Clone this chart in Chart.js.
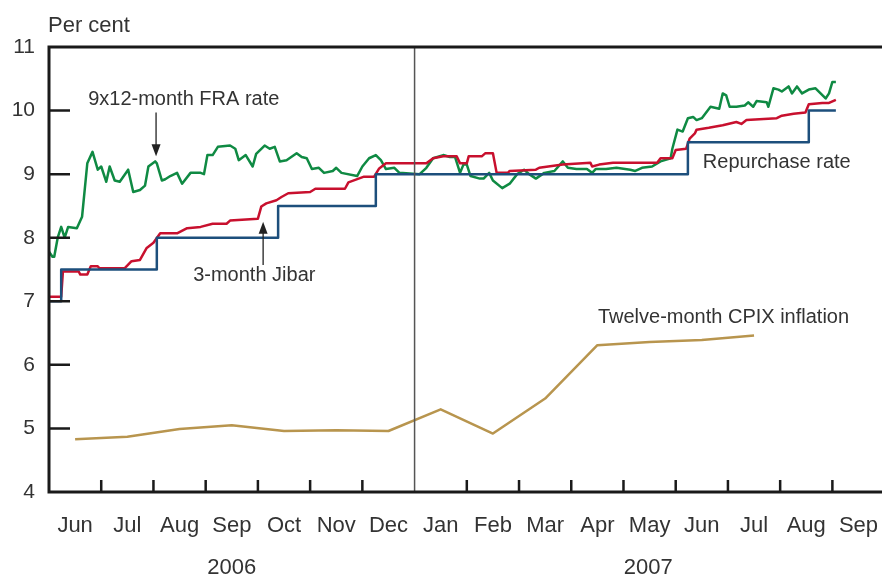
<!DOCTYPE html>
<html>
<head>
<meta charset="utf-8">
<script src="https://cdn.jsdelivr.net/npm/chart.js@4.4.0/dist/chart.umd.min.js"></script>
<style>
  body { margin: 0; background: #fff; }
  #wrap { width: 882px; height: 576px; }
</style>
</head>
<body>
<div id="wrap"><canvas id="chart" width="882" height="576"></canvas></div>
<script>
// Month axis: Jun 2006 .. Sep 2007, each month gets the same width
const monthNames = ['Jun', 'Jul', 'Aug', 'Sep', 'Oct', 'Nov', 'Dec', 'Jan', 'Feb', 'Mar', 'Apr', 'May', 'Jun', 'Jul', 'Aug', 'Sep'];
const yearNames = ['2006', '2007'];
const yearBreak = '2007-01-01';
const yTicks = [4, 5, 6, 7, 8, 9, 10, 11];

// Repurchase rate (step changes)
const repoDates = ['2006-06-01', '2006-06-08', '2006-08-03', '2006-10-13', '2006-12-09', '2007-06-08', '2007-08-18', '2007-09-03'];
const repoValues = [7.0, 7.5, 8.0, 8.5, 9.0, 9.5, 10.0, 10.0];

// 3-month Jibar
const jibarDates = ['2006-06-01', '2006-06-08', '2006-06-09', '2006-06-18', '2006-06-19', '2006-06-23', '2006-06-25', '2006-06-29',
  '2006-06-30', '2006-07-15', '2006-07-19', '2006-07-24', '2006-07-28', '2006-08-01', '2006-08-05', '2006-08-15', '2006-08-21',
  '2006-08-29', '2006-09-05', '2006-09-13', '2006-09-15', '2006-10-01', '2006-10-03', '2006-10-06', '2006-10-12', '2006-10-15',
  '2006-10-19', '2006-11-01', '2006-11-04', '2006-11-21', '2006-11-23', '2006-12-02', '2006-12-08', '2006-12-11', '2006-12-15',
  '2007-01-08', '2007-01-12', '2007-01-18', '2007-01-26', '2007-01-28', '2007-02-01', '2007-02-02', '2007-02-09', '2007-02-11',
  '2007-02-15', '2007-02-17', '2007-02-23', '2007-02-24', '2007-03-11', '2007-03-13', '2007-03-27', '2007-04-12', '2007-04-13',
  '2007-04-17', '2007-04-25', '2007-05-21', '2007-05-23', '2007-05-30', '2007-06-01', '2007-06-07', '2007-06-09', '2007-06-12',
  '2007-06-13', '2007-06-20', '2007-06-28', '2007-07-06', '2007-07-09', '2007-07-12', '2007-07-30', '2007-08-02', '2007-08-09',
  '2007-08-16', '2007-08-18', '2007-08-26', '2007-08-30', '2007-09-03'];
const jibarValues = [7.07, 7.07, 7.47, 7.47, 7.42, 7.42, 7.55, 7.55,
  7.52, 7.52, 7.63, 7.65, 7.84, 7.92, 8.07, 8.07, 8.15,
  8.17, 8.22, 8.22, 8.27, 8.30, 8.49, 8.54, 8.59, 8.64,
  8.70, 8.72, 8.77, 8.77, 8.87, 8.96, 8.96, 9.09, 9.17,
  9.17, 9.25, 9.28, 9.28, 9.17, 9.17, 9.28, 9.28, 9.33,
  9.33, 9.02, 9.02, 9.05, 9.07, 9.10, 9.15, 9.18, 9.12,
  9.15, 9.18, 9.18, 9.25, 9.25, 9.38, 9.40, 9.56, 9.64,
  9.70, 9.73, 9.77, 9.82, 9.79, 9.85, 9.88, 9.92, 9.95,
  9.97, 10.10, 10.12, 10.12, 10.17];

// 9x12-month FRA rate
const fraDates = ['2006-06-01', '2006-06-03', '2006-06-04', '2006-06-06', '2006-06-08', '2006-06-10', '2006-06-12', '2006-06-17',
  '2006-06-20', '2006-06-23', '2006-06-26', '2006-06-29', '2006-07-01', '2006-07-04', '2006-07-06', '2006-07-09', '2006-07-12',
  '2006-07-17', '2006-07-20', '2006-07-24', '2006-07-27', '2006-07-29', '2006-08-02', '2006-08-03', '2006-08-06', '2006-08-08',
  '2006-08-11', '2006-08-15', '2006-08-18', '2006-08-23', '2006-08-29', '2006-08-31', '2006-09-02', '2006-09-05', '2006-09-08',
  '2006-09-15', '2006-09-18', '2006-09-20', '2006-09-24', '2006-09-28', '2006-09-30', '2006-10-05', '2006-10-08', '2006-10-11',
  '2006-10-14', '2006-10-18', '2006-10-24', '2006-10-27', '2006-10-30', '2006-11-02', '2006-11-06', '2006-11-09', '2006-11-14',
  '2006-11-16', '2006-11-19', '2006-11-28', '2006-12-01', '2006-12-05', '2006-12-09', '2006-12-12', '2006-12-15', '2006-12-20',
  '2006-12-23', '2007-01-04', '2007-01-08', '2007-01-12', '2007-01-18', '2007-01-22', '2007-01-25', '2007-01-28', '2007-01-30',
  '2007-02-01', '2007-02-03', '2007-02-08', '2007-02-10', '2007-02-13', '2007-02-15', '2007-02-20', '2007-02-24', '2007-02-28',
  '2007-03-04', '2007-03-07', '2007-03-11', '2007-03-16', '2007-03-22', '2007-03-27', '2007-03-30', '2007-04-04', '2007-04-10',
  '2007-04-13', '2007-04-15', '2007-04-21', '2007-04-27', '2007-05-05', '2007-05-08', '2007-05-12', '2007-05-18', '2007-05-23',
  '2007-05-29', '2007-05-30', '2007-06-02', '2007-06-05', '2007-06-08', '2007-06-11', '2007-06-13', '2007-06-16', '2007-06-21',
  '2007-06-26', '2007-06-28', '2007-06-30', '2007-07-02', '2007-07-06', '2007-07-11', '2007-07-13', '2007-07-16', '2007-07-18',
  '2007-07-24', '2007-07-25', '2007-07-28', '2007-07-31', '2007-08-02', '2007-08-06', '2007-08-08', '2007-08-11', '2007-08-14',
  '2007-08-18', '2007-08-22', '2007-08-25', '2007-08-28', '2007-08-30', '2007-09-01', '2007-09-03'];
const fraValues = [7.78, 7.70, 7.70, 8.00, 8.17, 8.00, 8.17, 8.15,
  8.33, 9.17, 9.35, 9.07, 9.12, 8.88, 9.12, 8.90, 8.88,
  9.07, 8.72, 8.75, 8.82, 9.12, 9.20, 9.17, 8.90, 8.92,
  8.97, 9.02, 8.85, 9.02, 9.02, 9.00, 9.30, 9.30, 9.43,
  9.45, 9.40, 9.22, 9.30, 9.12, 9.32, 9.45, 9.40, 9.43,
  9.20, 9.22, 9.33, 9.27, 9.25, 9.08, 9.10, 9.02, 9.05,
  9.10, 9.02, 8.97, 9.12, 9.25, 9.30, 9.22, 9.08, 9.10,
  9.02, 9.00, 9.10, 9.25, 9.30, 9.27, 9.27, 9.02, 9.15,
  9.15, 8.97, 8.93, 8.93, 9.02, 8.90, 8.78, 8.85, 9.00,
  9.07, 9.00, 8.93, 9.02, 9.05, 9.20, 9.10, 9.08, 9.08,
  9.02, 9.08, 9.08, 9.10, 9.07, 9.05, 9.10, 9.12, 9.20,
  9.25, 9.40, 9.70, 9.67, 9.88, 9.90, 9.85, 9.88, 10.06,
  10.03, 10.27, 10.24, 10.06, 10.06, 10.08, 10.13, 10.06, 10.15,
  10.13, 10.06, 10.35, 10.33, 10.30, 10.38, 10.27, 10.38, 10.27,
  10.33, 10.35, 10.27, 10.19, 10.27, 10.45, 10.45];

// Twelve-month CPIX inflation (monthly, plotted mid-month)
const cpixMonths = ['2006-06', '2006-07', '2006-08', '2006-09', '2006-10', '2006-11', '2006-12',
  '2007-01', '2007-02', '2007-03', '2007-04', '2007-05', '2007-06', '2007-07'];
const cpixValues = [4.83, 4.87, 4.99, 5.05, 4.96, 4.97, 4.96, 5.30, 4.92, 5.47, 6.31, 6.36, 6.39, 6.46];

// date -> position on the month axis (0 = 1 Jun 2006)
function toMonthIndex(d) {
  const [yy, mm, dd] = d.split('-').map(Number);
  const days = new Date(yy, mm, 0).getDate();
  return (yy - 2006) * 12 + (mm - 6) + ((dd || 1) - 1) / days;
}
const pairs = (dates, values) => dates.map((d, i) => ({ x: toMonthIndex(d), y: values[i] }));

const textColor = '#333';
const fontFamily = '"Liberation Sans", Arial, sans-serif';

const decorations = {
  id: 'decorations',
  afterDatasetsDraw(chart) {
    const { ctx, chartArea: a, scales: { x, y } } = chart;
    ctx.save();

    // divider at the turn of the year
    const xb = x.getPixelForValue(toMonthIndex(yearBreak));
    ctx.strokeStyle = '#555';
    ctx.lineWidth = 1.5;
    ctx.beginPath();
    ctx.moveTo(xb, a.top);
    ctx.lineTo(xb, a.bottom);
    ctx.stroke();

    // frame: top, left, bottom
    ctx.strokeStyle = '#1a1a1a';
    ctx.lineWidth = 3;
    ctx.beginPath();
    ctx.moveTo(a.right, a.top);
    ctx.lineTo(a.left, a.top);
    ctx.lineTo(a.left, a.bottom);
    ctx.lineTo(a.right, a.bottom);
    ctx.stroke();

    // inner ticks
    ctx.lineWidth = 2.5;
    ctx.beginPath();
    yTicks.slice(1, -1).forEach(v => {
      const py = y.getPixelForValue(v);
      ctx.moveTo(a.left, py);
      ctx.lineTo(a.left + 21, py);
    });
    for (let i = 1; i < monthNames.length; i++) {
      if (i === 7) continue;
      const px = x.getPixelForValue(i);
      ctx.moveTo(px, a.bottom);
      ctx.lineTo(px, a.bottom - 12);
    }
    ctx.stroke();

    // arrows
    const arrow = (m, from, to) => {
      const px = x.getPixelForValue(m);
      const y1 = y.getPixelForValue(from);
      const y2 = y.getPixelForValue(to);
      const dir = y2 > y1 ? 1 : -1;
      ctx.strokeStyle = '#222';
      ctx.fillStyle = '#222';
      ctx.lineWidth = 1.3;
      ctx.beginPath();
      ctx.moveTo(px, y1);
      ctx.lineTo(px, y2 - dir * 10);
      ctx.stroke();
      ctx.beginPath();
      ctx.moveTo(px, y2);
      ctx.lineTo(px - 4.5, y2 - dir * 12);
      ctx.lineTo(px + 4.5, y2 - dir * 12);
      ctx.closePath();
      ctx.fill();
    };
    arrow(2.05, 9.97, 9.28);
    arrow(4.10, 7.57, 8.25);

    // series labels
    ctx.fillStyle = textColor;
    ctx.font = `20px ${fontFamily}`;
    ctx.textAlign = 'left';
    ctx.textBaseline = 'middle';
    const label = (t, m, v) => ctx.fillText(t, x.getPixelForValue(m), y.getPixelForValue(v));
    label('9x12-month FRA rate', 0.75, 10.17);
    label('3-month Jibar', 2.76, 7.41);
    label('Repurchase rate', 12.52, 9.19);
    label('Twelve-month CPIX inflation', 10.51, 6.74);

    // unit and years
    ctx.font = `22px ${fontFamily}`;
    ctx.textBaseline = 'alphabetic';
    ctx.fillText('Per cent', a.left - 1, a.top - 15);
    ctx.textAlign = 'center';
    ctx.textBaseline = 'middle';
    const split = toMonthIndex(yearBreak);
    ctx.fillText(yearNames[0], x.getPixelForValue(split / 2), a.bottom + 76);
    ctx.fillText(yearNames[1], x.getPixelForValue((split + x.max) / 2), a.bottom + 76);

    ctx.restore();
  }
};

new Chart(document.getElementById('chart'), {
  type: 'line',
  data: {
    datasets: [
      { label: 'Repurchase rate', data: pairs(repoDates, repoValues), borderColor: '#1d4f7c', stepped: true },
      { label: '3-month Jibar', data: pairs(jibarDates, jibarValues), borderColor: '#c8102e' },
      { label: '9x12-month FRA rate', data: pairs(fraDates, fraValues), borderColor: '#0f8a43' },
      { label: 'Twelve-month CPIX inflation', data: cpixMonths.map((d, i) => ({ x: toMonthIndex(d + '-01') + 0.5, y: cpixValues[i] })), borderColor: '#b8954e' }
    ]
  },
  options: {
    responsive: false,
    animation: false,
    layout: { padding: { top: 47, left: 0, right: 0, bottom: 0 } },
    elements: {
      line: { borderWidth: 2.5, tension: 0, borderJoinStyle: 'round' },
      point: { radius: 0 }
    },
    plugins: { legend: { display: false }, tooltip: { enabled: false } },
    scales: {
      x: {
        type: 'linear',
        min: 0,
        max: 15.95,
        grid: { display: false, drawTicks: false },
        border: { display: false },
        afterBuildTicks: s => { s.ticks = monthNames.map((_, i) => ({ value: i + 0.5 })); },
        afterFit: s => { s.height = 84; s.paddingLeft = 0; s.paddingRight = 0; },
        ticks: {
          autoSkip: false,
          maxRotation: 0,
          padding: 21,
          color: textColor,
          font: { family: fontFamily, size: 22 },
          callback: v => monthNames[Math.floor(v)]
        }
      },
      y: {
        min: 4,
        max: 11,
        grid: { display: false, drawTicks: false },
        border: { display: false },
        afterBuildTicks: s => { s.ticks = yTicks.map(v => ({ value: v })); },
        afterFit: s => { s.width = 49; s.paddingTop = 0; s.paddingBottom = 0; },
        ticks: {
          padding: 14,
          color: textColor,
          font: { family: fontFamily, size: 21 }
        }
      }
    }
  },
  plugins: [decorations]
});
</script>
</body>
</html>
